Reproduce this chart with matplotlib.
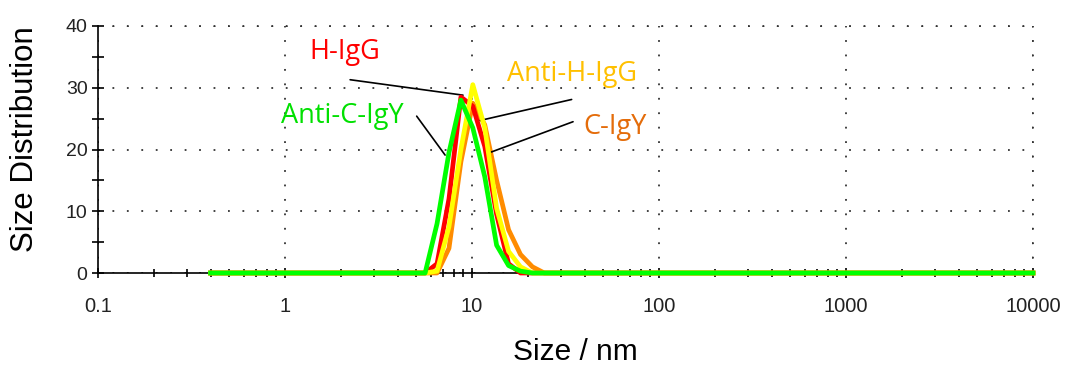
import matplotlib
matplotlib.use("Agg")
import matplotlib.pyplot as plt
from matplotlib.ticker import FixedLocator, NullFormatter, FixedFormatter

# Size classes (nm)
sizes = [0.4000, 0.4632, 0.5365, 0.6213, 0.7195, 0.8332, 0.9649, 1.117, 1.294, 1.499,
         1.736, 2.010, 2.328, 2.696, 3.122, 3.615, 4.187, 4.849, 5.615, 6.503,
         7.531, 8.721, 10.10, 11.70, 13.54, 15.69, 18.17, 21.04, 24.36, 28.21,
         32.67, 37.84, 43.82, 50.75, 58.77, 68.06, 78.82, 91.28, 105.7, 122.4,
         141.8, 164.2, 190.1, 220.2, 255.0, 295.3, 342.0, 396.1, 458.7, 531.2,
         615.1, 712.4, 825.0, 955.4, 1106, 1281, 1484, 1718, 1990, 2305,
         2669, 3091, 3580, 4145, 4801, 5560, 6439, 7456, 8635, 10000]

c_igy = [0]*19 + [0, 4, 18, 27.5, 24, 15, 7, 3, 1, 0] + [0]*41
h_igg = [0]*19 + [1.5, 12, 28.5, 27, 20.5, 9.5, 1.5, 0, 0, 0] + [0]*41
anti_h_igg = [0]*19 + [0.3, 7.5, 20, 30.5, 23.5, 10.5, 3.5, 1, 0, 0] + [0]*41
anti_c_igy = [0]*19 + [8, 19.5, 28, 23.5, 15.6, 4.5, 1.2, 0.3, 0, 0] + [0]*41

x_ticks = [0.1, 1, 10, 100, 1000, 10000]
x_ticklabels = ["0.1", "1", "10", "100", "1000", "10000"]
y_ticks = [0, 10, 20, 30, 40]

fig = plt.figure(figsize=(10.68, 3.65), dpi=100)
ax = fig.add_axes([98/1068, 1-273/365, (1033-98)/1068, (273-26)/365])

lw = 3.4
ax.plot(sizes, c_igy, color="#FF8C00", lw=lw, clip_on=False, zorder=3)
ax.plot(sizes, h_igg, color="#FF0000", lw=lw, clip_on=False, zorder=4)
ax.plot(sizes, anti_h_igg, color="#FFFF00", lw=lw, clip_on=False, zorder=5)
ax.plot(sizes, anti_c_igy, color="#00FF00", lw=lw, clip_on=False, zorder=6)

ax.set_xscale("log")
ax.set_xlim(0.1, 10000)
ax.set_ylim(0, 40)

for s in ["top", "right"]:
    ax.spines[s].set_visible(False)
ax.spines["left"].set_linewidth(1.2)
ax.spines["bottom"].set_linewidth(1.2)

ax.xaxis.set_major_locator(FixedLocator(x_ticks))
ax.xaxis.set_major_formatter(FixedFormatter(x_ticklabels))
minor = [m * 10**e for e in range(-1, 4) for m in range(2, 10)]
ax.xaxis.set_minor_locator(FixedLocator(minor))
ax.xaxis.set_minor_formatter(NullFormatter())
ax.yaxis.set_major_locator(FixedLocator(y_ticks))
ax.yaxis.set_minor_locator(FixedLocator([5, 15, 25, 35]))

ax.tick_params(axis="both", which="both", direction="inout", color="black", width=1.2)
ax.tick_params(axis="x", which="major", length=7, pad=14)
ax.tick_params(axis="x", which="minor", length=6)
ax.tick_params(axis="y", which="major", length=9, pad=3)
ax.tick_params(axis="y", which="minor", length=9)
for lab in ax.get_xticklabels():
    lab.set_fontfamily("Liberation Sans")
    lab.set_fontsize(14.5)
    lab.set_color("#222222")
for lab in ax.get_yticklabels():
    lab.set_fontfamily("Liberation Sans")
    lab.set_fontsize(14)
    lab.set_color("#222222")

ax.grid(True, which="major", axis="both", color="#333333", linestyle=(0, (1, 7)), lw=1.3)
ax.axhline(40, color="#333333", linestyle=(0, (1, 7)), lw=1.3, clip_on=False)
ax.axvline(10000, color="#333333", linestyle=(0, (1, 7)), lw=1.3, clip_on=False)

ax.set_ylabel("Size Distribution", fontsize=22.5, family="Liberation Sans")
ax.set_xlabel("Size / nm", fontsize=21.5, family="Liberation Sans")
ax.yaxis.set_label_coords(-0.062, 0.54)
ax.xaxis.set_label_coords(0.5107, -0.262)

lab_font = dict(fontsize=19.5, family="Open Sans", ha="center", va="center")
line_kw = dict(arrowprops=dict(arrowstyle="-", color="black", lw=1.2, shrinkA=0, shrinkB=0))

ax.text(2.09, 35.8, "H-IgG", color="#FF0000", **lab_font)
ax.annotate("", xy=(8.95, 28.8), xytext=(2.23, 31.3), **line_kw)
ax.text(34.3, 32.2, "Anti-H-IgG", color="#FFC000", **lab_font)
ax.annotate("", xy=(11.04, 24.7), xytext=(34.1, 28.1), **line_kw)
ax.text(58.2, 23.6, "C-IgY", color="#E46C0A", **lab_font)
ax.annotate("", xy=(12.7, 19.6), xytext=(34.7, 24.5), **line_kw)
ax.text(2.02, 25.4, "Anti-C-IgY", color="#00E000", **lab_font)
ax.annotate("", xy=(7.18, 19.1), xytext=(5.06, 25.4), **line_kw)

fig.savefig("out.png", dpi=100)
